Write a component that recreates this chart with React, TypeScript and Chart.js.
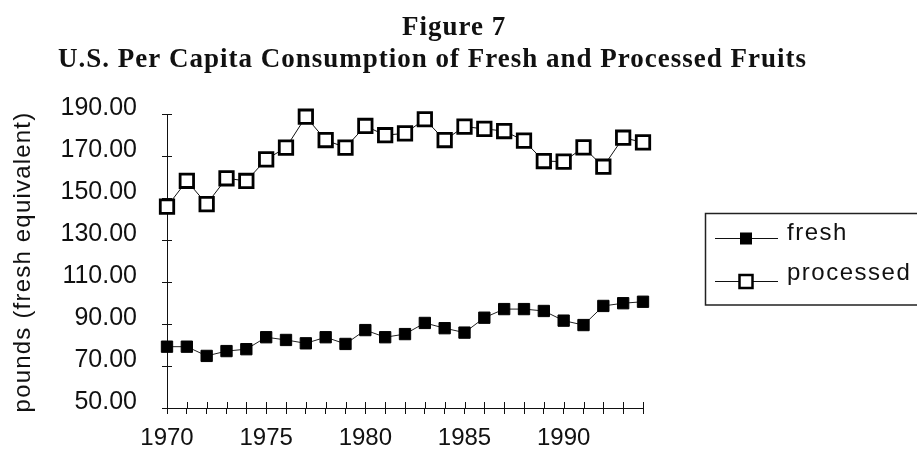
import React, { useEffect, useRef } from 'react';
import { Chart, registerables } from 'chart.js';

Chart.register(...registerables);

const titleLine1 = 'Figure 7';
const titleLine2 = 'U.S. Per Capita Consumption of Fresh and Processed Fruits';
const yAxisTitle = 'pounds (fresh equivalent)';

const years = [
  '1970', '1971', '1972', '1973', '1974', '1975', '1976', '1977', '1978', '1979',
  '1980', '1981', '1982', '1983', '1984', '1985', '1986', '1987', '1988', '1989',
  '1990', '1991', '1992', '1993', '1994',
];
const xTickLabels = ['1970', '1975', '1980', '1985', '1990'];

const yMin = 50;
const yMax = 190;
const yStep = 20;

const seriesNames = ['fresh', 'processed'];

const fresh = [
  79.2, 79.2, 74.8, 77.1, 78.0, 83.7, 82.4, 80.8, 83.7, 80.5,
  87.1, 83.7, 85.2, 90.5, 88.0, 85.9, 93.0, 97.1, 97.1, 96.2,
  91.6, 89.5, 98.6, 99.9, 100.6,
];
const processed = [
  145.9, 158.2, 147.1, 159.4, 158.1, 168.4, 174.0, 188.7, 177.6, 174.0,
  184.3, 179.9, 180.8, 187.5, 177.6, 184.0, 182.9, 181.9, 177.3, 167.6,
  167.3, 174.1, 164.9, 178.7, 176.5,
];

const SANS = '"Liberation Sans", Arial, sans-serif';
const SERIF = '"Liberation Serif", "Times New Roman", serif';

const decorPlugin = {
  id: 'decor',
  beforeDatasetsDraw(chart: any) {
    const ctx = chart.ctx;
    const { left, bottom } = chart.chartArea;
    const xs = chart.scales.x;
    const ys = chart.scales.y;
    ctx.save();
    ctx.strokeStyle = '#111';
    ctx.lineWidth = 1;
    ctx.beginPath();
    xs.ticks.forEach((_t: any, i: number) => {
      const px = Math.round(xs.getPixelForTick(i)) + 0.5;
      ctx.moveTo(px, bottom);
      ctx.lineTo(px, bottom - 6);
    });
    ys.ticks.forEach((_t: any, i: number) => {
      const py = Math.round(ys.getPixelForTick(i)) + 0.5;
      ctx.moveTo(left, py);
      ctx.lineTo(left + 5, py);
    });
    ctx.stroke();
    ctx.restore();
  },
  afterDraw(chart: any) {
    const ctx = chart.ctx;
    const { top, bottom } = chart.chartArea;
    ctx.save();
    ctx.fillStyle = '#111';

    // Titles
    ctx.font = `bold 27px ${SERIF}`;
    (ctx as any).letterSpacing = '1px';
    ctx.textBaseline = 'alphabetic';
    ctx.textAlign = 'left';
    ctx.fillText(titleLine1, 402, 35);
    ctx.fillText(titleLine2, 58, 67);

    // Y axis title
    ctx.save();
    ctx.font = `24px ${SANS}`;
    (ctx as any).letterSpacing = '1.2px';
    ctx.translate(23, (top + bottom) / 2 + 1);
    ctx.rotate(-Math.PI / 2);
    ctx.textAlign = 'center';
    ctx.textBaseline = 'middle';
    ctx.fillText(yAxisTitle, 0, 0);
    ctx.restore();

    // Legend
    const boxL = 705.5, boxT = 213.5, boxB = 305;
    ctx.strokeStyle = '#222';
    ctx.lineWidth = 1.5;
    ctx.beginPath();
    ctx.moveTo(930, boxT);
    ctx.lineTo(boxL, boxT);
    ctx.lineTo(boxL, boxB);
    ctx.lineTo(930, boxB);
    ctx.stroke();

    const rows = [238.5, 281.5];
    const baselines = [240, 280];
    chart.data.datasets.forEach((ds: any, i: number) => {
      const y = rows[i];
      ctx.strokeStyle = '#111';
      ctx.lineWidth = 1;
      ctx.beginPath();
      ctx.moveTo(715, y);
      ctx.lineTo(778, y);
      ctx.stroke();
      if (i === 0) {
        ctx.fillStyle = '#000';
        ctx.fillRect(740, y - 6, 12, 12);
      } else {
        ctx.fillStyle = '#fff';
        ctx.fillRect(739.5, y - 6.5, 13, 13);
        ctx.strokeStyle = '#000';
        ctx.lineWidth = 2.5;
        ctx.strokeRect(739.5, y - 6.5, 13, 13);
      }
      ctx.fillStyle = '#111';
      ctx.font = `24px ${SANS}`;
      (ctx as any).letterSpacing = '1.5px';
      ctx.textAlign = 'left';
      ctx.textBaseline = 'alphabetic';
      ctx.fillText(ds.label, 787, baselines[i]);
    });
    ctx.restore();
  },
};

export default function App() {
  const ref = useRef<HTMLCanvasElement | null>(null);

  useEffect(() => {
    if (!ref.current) return;
    const chart = new Chart(ref.current, {
      type: 'line',
      data: {
        labels: years,
        datasets: [
          {
            label: seriesNames[0],
            data: fresh,
            borderColor: '#222',
            borderWidth: 1,
            pointStyle: 'rect',
            pointRadius: 8,
            pointBackgroundColor: '#000',
            pointBorderColor: '#000',
            pointBorderWidth: 1,
            tension: 0,
            clip: false,
          },
          {
            label: seriesNames[1],
            data: processed,
            borderColor: '#111',
            borderWidth: 1,
            pointStyle: 'rect',
            pointRadius: 9.5,
            pointBackgroundColor: '#fff',
            pointBorderColor: '#000',
            pointBorderWidth: 2.8,
            tension: 0,
            clip: false,
          },
        ],
      },
      options: {
        animation: false,
        responsive: false,
        maintainAspectRatio: false,
        layout: { padding: { top: 114, right: 274, left: 0, bottom: 0 } },
        plugins: {
          legend: { display: false },
          title: { display: false },
          tooltip: { enabled: false },
        },
        scales: {
          x: {
            type: 'category',
            offset: false,
            afterFit: (s: any) => { s.height = 41; },
            border: { display: true, color: '#111', width: 1 },
            grid: { display: true, drawOnChartArea: false, drawTicks: true, tickLength: 6, color: '#111' },
            ticks: {
              autoSkip: false,
              maxRotation: 0,
              padding: 10,
              color: '#111',
              font: { family: SANS, size: 24 },
              callback: function (this: any, _v: any, i: number) {
                const lab = years[i];
                return xTickLabels.includes(lab) ? lab : '';
              },
            },
          },
          y: {
            min: yMin,
            max: yMax,
            afterFit: (s: any) => { s.width = 167; },
            border: { display: true, color: '#111', width: 1 },
            grid: { display: true, drawOnChartArea: false, drawTicks: true, tickLength: 5, color: '#111' },
            ticks: {
              stepSize: yStep,
              padding: 25,
              labelOffset: -6,
              color: '#111',
              font: { family: SANS, size: 25 },
              callback: (v: any) => Number(v).toFixed(2),
            },
          },
        },
      },
      plugins: [decorPlugin],
    });
    return () => chart.destroy();
  }, []);

  return (
    <div style={{ position: 'absolute', left: 0, top: 0, width: 917, height: 449, background: '#fff' }}>
      <canvas ref={ref} width={917} height={449} style={{ width: 917, height: 449 }} />
    </div>
  );
}
